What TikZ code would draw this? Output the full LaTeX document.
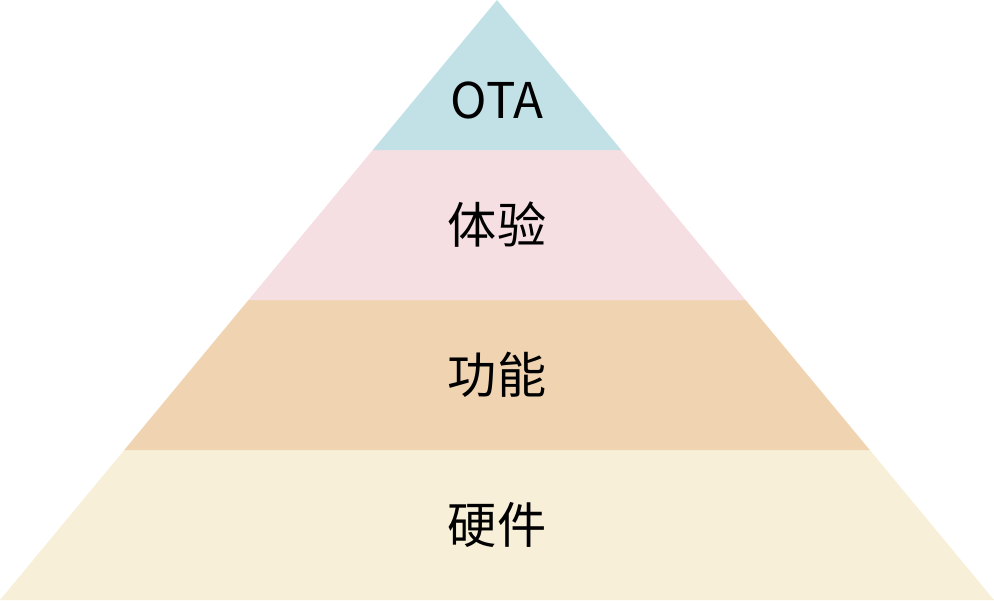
\documentclass[tikz,border=0pt]{standalone}
\usepackage{fontspec}
\setmainfont{Noto Sans CJK SC}
\usepackage{xcolor}
\usepackage{tikz}
\usetikzlibrary{calc}
\definecolor{otablue}{HTML}{C1E1E6}
\definecolor{tipink}{HTML}{F5DFE3}
\definecolor{gnorange}{HTML}{F0D4B2}
\definecolor{yjcream}{HTML}{F7EFD8}
\tikzset{
  layer/.style={fill=#1, draw=none},
  layer/.default=yjcream,
  label/.style={font=\fontsize{14pt}{17pt}\selectfont, text=black, inner sep=0pt}
}

\begin{document}
\begin{tikzpicture}
  \useasboundingbox (0,0) rectangle (9.94,6);
  \coordinate (bl) at (0,0);
  \coordinate (br) at (9.94,0);
  \coordinate (apex) at (4.97,6);
  % four bands, bottom to top
  \fill[layer=yjcream] (bl) -- (br) -- ($(br)!0.25!(apex)$) -- ($(bl)!0.25!(apex)$) -- cycle;
  \fill[layer=gnorange] ($(bl)!0.25!(apex)$) -- ($(br)!0.25!(apex)$) -- ($(br)!0.5!(apex)$) -- ($(bl)!0.5!(apex)$) -- cycle;
  \fill[layer=tipink] ($(bl)!0.5!(apex)$) -- ($(br)!0.5!(apex)$) -- ($(br)!0.75!(apex)$) -- ($(bl)!0.75!(apex)$) -- cycle;
  \fill[layer=otablue] ($(bl)!0.75!(apex)$) -- ($(br)!0.75!(apex)$) -- (apex) -- cycle;
  \node[label] (ota) at (4.97,5.0) {OTA};
  \node[label] (tiyan) at (4.97,3.75) {体验};
  \node[label] (gongneng) at (4.97,2.25) {功能};
  \node[label] (yingjian) at (4.97,0.75) {硬件};
\end{tikzpicture}
\end{document}
